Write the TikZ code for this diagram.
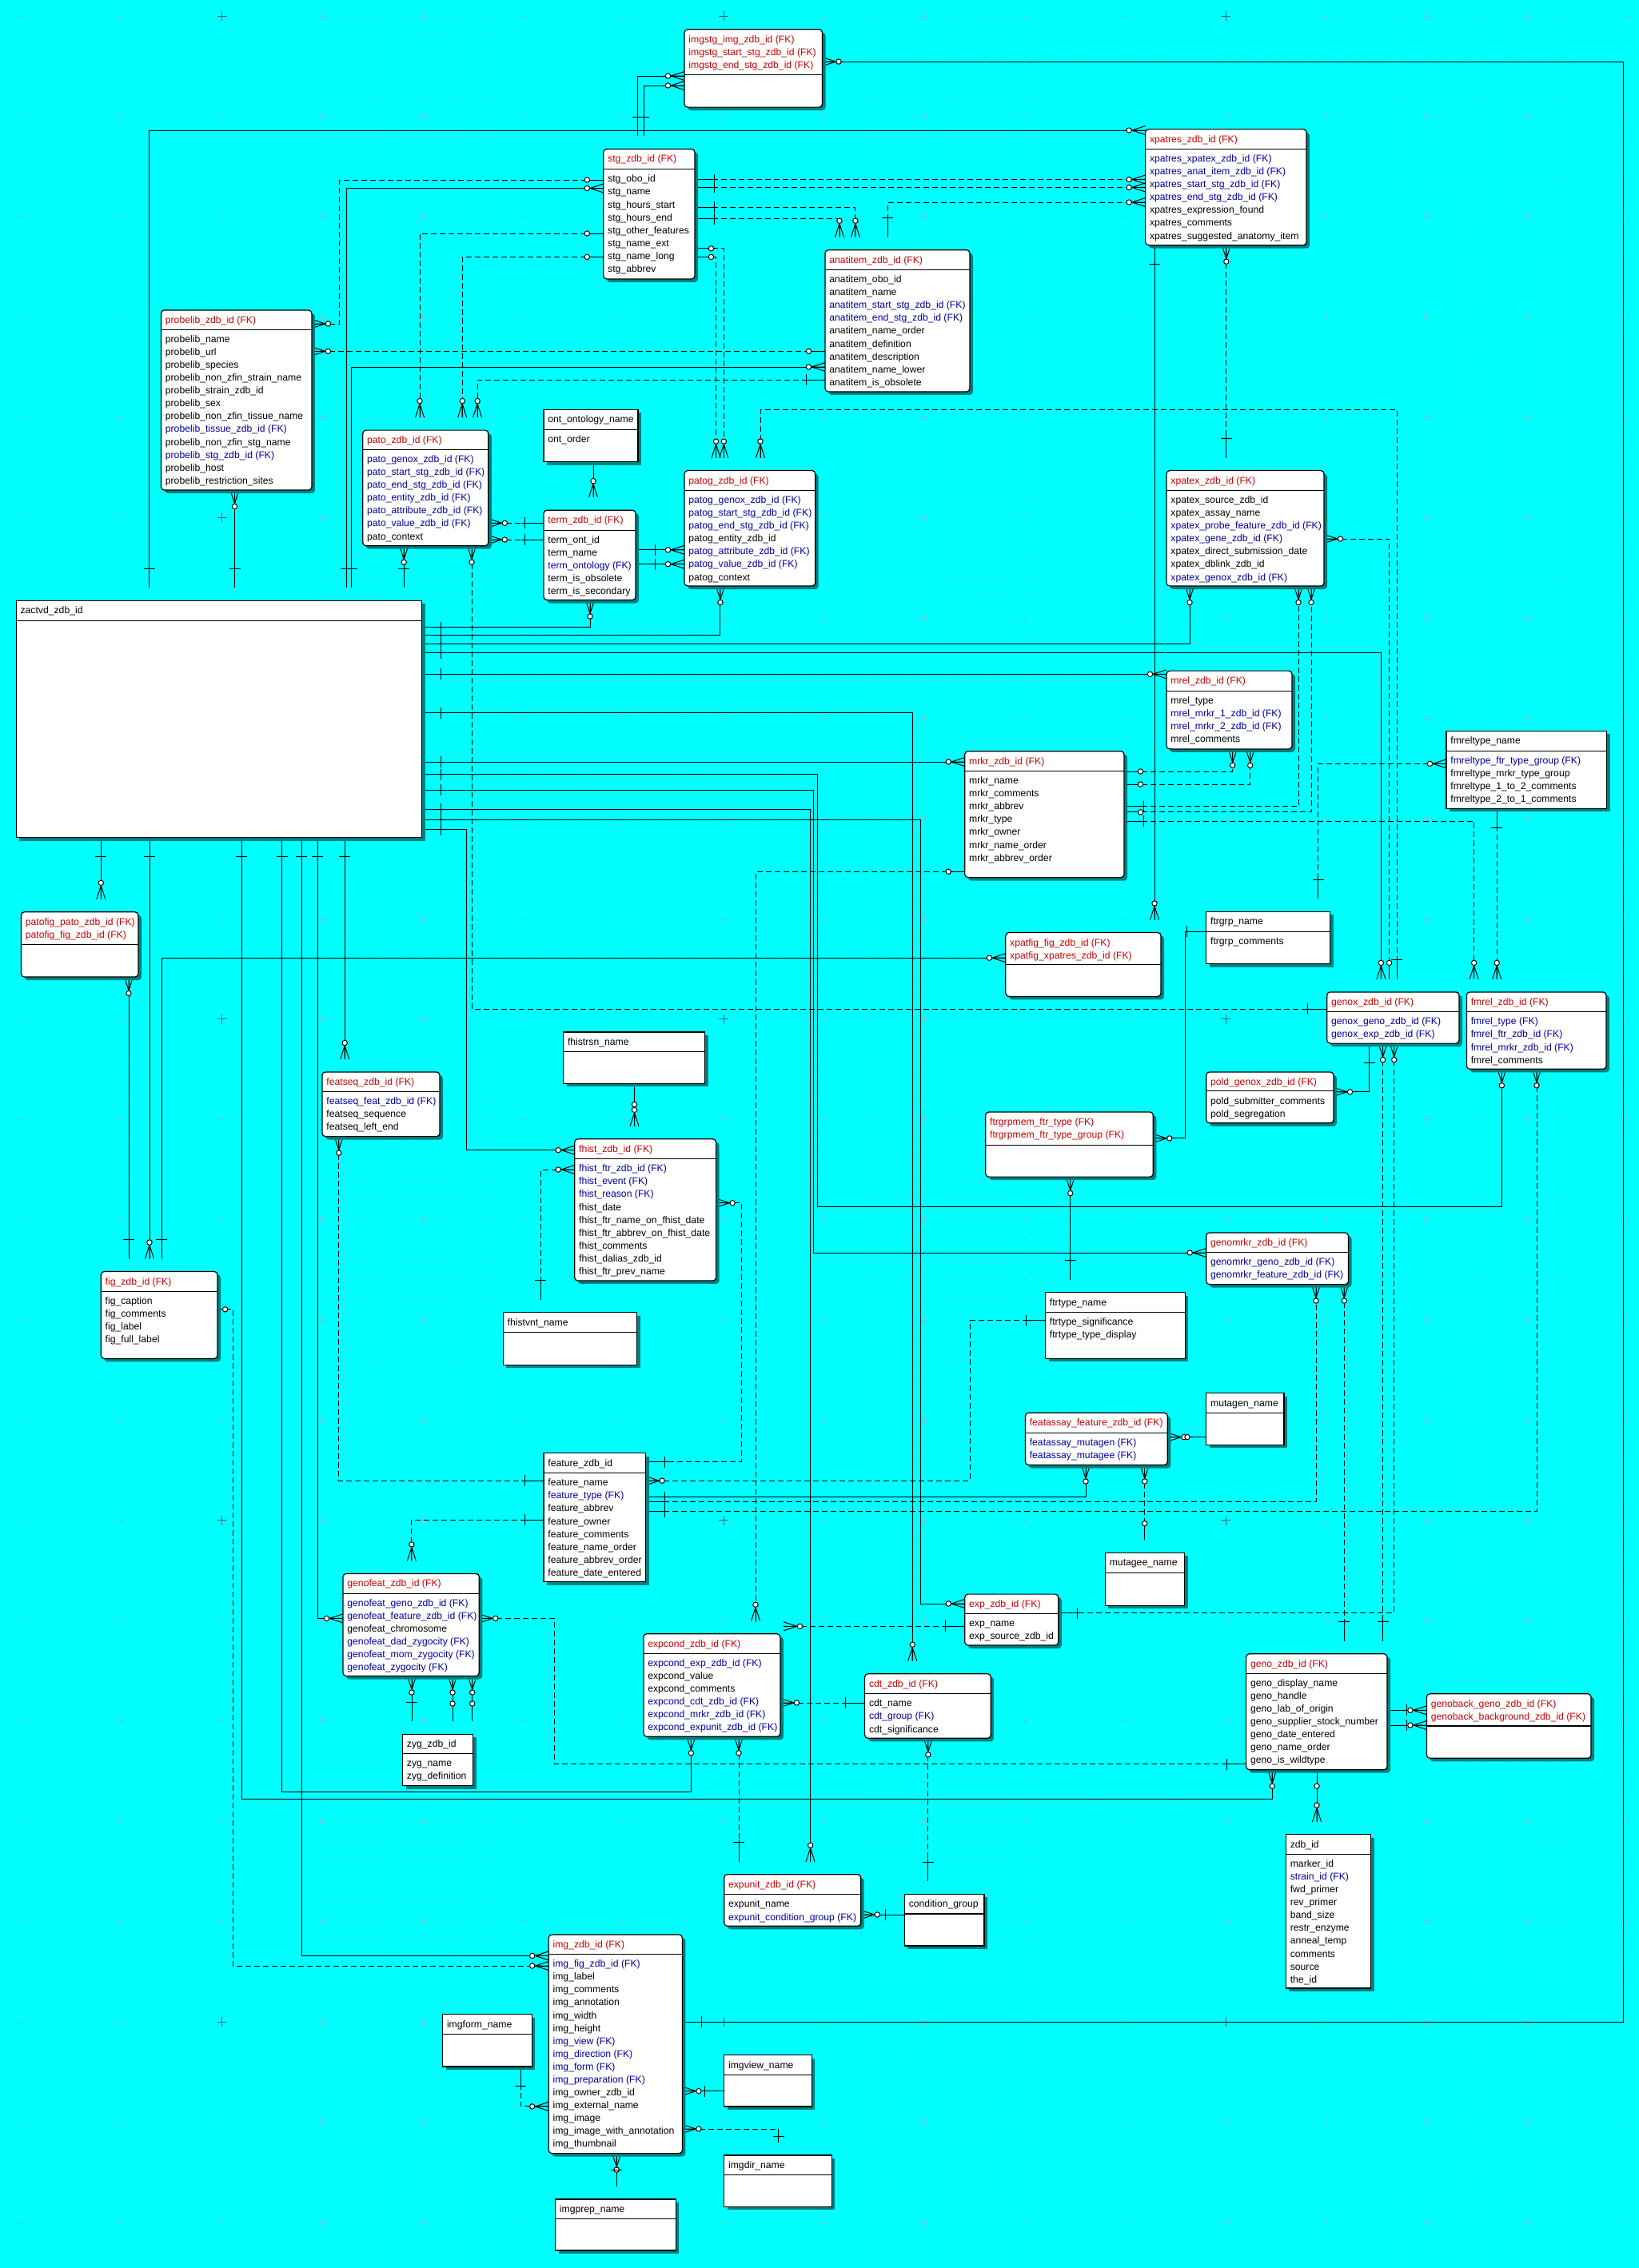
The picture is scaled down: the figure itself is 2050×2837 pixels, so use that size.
\documentclass[tikz,border=0pt]{standalone}
\usepackage{fontspec}
\setmainfont{Liberation Sans}
\usetikzlibrary{calc}
\definecolor{bgc}{RGB}{0,255,255}
\definecolor{shd}{RGB}{0,128,128}
\definecolor{hred}{RGB}{200,0,0}
\definecolor{fkb}{RGB}{0,0,160}
\definecolor{gridl}{RGB}{105,200,210}
\definecolor{gridd}{RGB}{70,100,110}
\definecolor{dotc}{RGB}{70,185,195}
\newcommand\R[1]{\textcolor{hred}{#1}}
\newcommand\B[1]{\textcolor{fkb}{#1}}
\newcommand\efont{\fontsize{6.1pt}{7pt}\selectfont}
\pgfdeclarelayer{bgl}
\pgfsetlayers{bgl,main}
\tikzset{
  ln/.style={line width=0.5pt,black},
  dl/.style={ln,dash pattern=on 3.5pt off 2pt},
  bd/.style={line width=0.6pt,black},
  ebx/.style={draw,line width=0.6pt,fill=white,inner sep=0pt,outer sep=0pt},
  rc/.style={rounded corners=2pt},
  sq/.style={},
  txt/.style={anchor=base west,inner sep=0pt,font=\efont}
}
\newcommand\setdir[1]{\def\ux{0}\def\uy{0}%
  \if r#1\def\ux{1}\fi\if l#1\def\ux{-1}\fi\if u#1\def\uy{-1}\fi\if d#1\def\uy{1}\fi}
\newcommand\dCrw[3]{\setdir{#3}%
  \draw[ln] ({#1-5.5*\uy},{#2+5.5*\ux}) -- ({#1+17*\ux},{#2+17*\uy}) -- ({#1+5.5*\uy},{#2-5.5*\ux})
            ({#1+17*\ux},{#2+17*\uy}) -- (#1,#2);}
\newcommand\dZro[3]{\setdir{#3}%
  \draw[ln] (#1,#2) -- ({#1+20.5*\ux},{#2+20.5*\uy});
  \draw[ln,fill=white] ({#1+20.5*\ux},{#2+20.5*\uy}) circle[radius=3.2];}
\newcommand\dMny[3]{\dCrw{#1}{#2}{#3}\dZro{#1}{#2}{#3}}
\newcommand\dOne[3]{\setdir{#3}%
  \draw[ln] ({#1+24*\ux-7*\uy},{#2+24*\uy+7*\ux}) -- ({#1+24*\ux+7*\uy},{#2+24*\uy-7*\ux});}
\newcommand\dOnex[3]{\setdir{#3}\draw[ln] (#1,#2) -- ({#1+28*\ux},{#2+28*\uy});\dOne{#1}{#2}{#3}}
\newcommand\ebox[7]{%
  \fill[shd,#7] ({#2+4},{#3+4}) rectangle ({#4+4},{#5+4});
  \node[ebx,#7,anchor=north west,minimum width={(#4-#2)/2},minimum height={(#5-#3)/2}] (#1) at (#2,#3) {};
  \draw[bd] (#2,#6) -- (#4,#6);
  \coordinate (#1-T) at ($(#1.north)+(0,-16)$);}
\newcommand\rows[3]{\foreach \t [count=\i from 0] in {#3} {\node[txt] at ({#1+5},{#2+4.3+16.07*\i}) {\t};}}
\newcommand\hrows[3]{\foreach \t [count=\i from 0] in {#3} {\node[txt] at ({#1+5},{#2+4.3+16.07*\i}) {\R{\t}};}}
\newcommand\entR[8]{\ebox{#1}{#2}{#3}{#4}{#5}{#6}{rc}\hrows{#2}{#3+12.2}{#7}\rows{#2}{#6+11.9}{#8}}
\newcommand\entS[8]{\ebox{#1}{#2}{#3}{#4}{#5}{#6}{sq}\rows{#2}{#3+12.2}{#7}\rows{#2}{#6+11.9}{#8}}
\begin{document}
\catcode`\_=12
\begin{tikzpicture}[x=0.5pt,y=-0.5pt]
\useasboundingbox (0,0) rectangle (2050,2837);
% ---------------- entities ----------------
\entR{imgstg}{856}{36.7}{1028.5}{134.1}{93.7}{imgstg_img_zdb_id (FK),imgstg_start_stg_zdb_id (FK),imgstg_end_stg_zdb_id (FK)}{}
\entR{stg}{754.8}{186.4}{869}{349}{211.7}{stg_zdb_id (FK)}{stg_obo_id,stg_name,stg_hours_start,stg_hours_end,stg_other_features,stg_name_ext,stg_name_long,stg_abbrev}
\entR{anatitem}{1032}{312.7}{1213}{489.9}{337.5}{anatitem_zdb_id (FK)}{anatitem_obo_id,anatitem_name,\B{anatitem_start_stg_zdb_id (FK)},\B{anatitem_end_stg_zdb_id (FK)},anatitem_name_order,anatitem_definition,anatitem_description,anatitem_name_lower,anatitem_is_obsolete}
\entR{xpatres}{1432.6}{161.6}{1634}{306.7}{186.4}{xpatres_zdb_id (FK)}{\B{xpatres_xpatex_zdb_id (FK)},\B{xpatres_anat_item_zdb_id (FK)},\B{xpatres_start_stg_zdb_id (FK)},\B{xpatres_end_stg_zdb_id (FK)},xpatres_expression_found,xpatres_comments,xpatres_suggested_anatomy_item}
\entR{probelib}{201.5}{388}{389.9}{613}{412.3}{probelib_zdb_id (FK)}{probelib_name,probelib_url,probelib_species,probelib_non_zfin_strain_name,probelib_strain_zdb_id,probelib_sex,probelib_non_zfin_tissue_name,\B{probelib_tissue_zdb_id (FK)},probelib_non_zfin_stg_name,\B{probelib_stg_zdb_id (FK)},probelib_host,probelib_restriction_sites}
\entR{pato}{453.7}{538.1}{610.8}{682.7}{562.4}{pato_zdb_id (FK)}{\B{pato_genox_zdb_id (FK)},\B{pato_start_stg_zdb_id (FK)},\B{pato_end_stg_zdb_id (FK)},\B{pato_entity_zdb_id (FK)},\B{pato_attribute_zdb_id (FK)},\B{pato_value_zdb_id (FK)},pato_context}
\entS{ont}{680}{512.4}{798}{577.6}{537.2}{ont_ontology_name}{ont_order}
\entR{term}{680}{638.2}{795}{750.5}{663.5}{term_zdb_id (FK)}{term_ont_id,term_name,\B{term_ontology (FK)},term_is_obsolete,term_is_secondary}
\entR{patog}{856}{588.6}{1019.7}{733}{613.4}{patog_zdb_id (FK)}{\B{patog_genox_zdb_id (FK)},\B{patog_start_stg_zdb_id (FK)},\B{patog_end_stg_zdb_id (FK)},patog_entity_zdb_id,\B{patog_attribute_zdb_id (FK)},\B{patog_value_zdb_id (FK)},patog_context}
\entR{xpatex}{1459}{588.6}{1656}{733}{613.4}{xpatex_zdb_id (FK)}{xpatex_source_zdb_id,xpatex_assay_name,\B{xpatex_probe_feature_zdb_id (FK)},\B{xpatex_gene_zdb_id (FK)},xpatex_direct_submission_date,xpatex_dblink_zdb_id,\B{xpatex_genox_zdb_id (FK)}}
\entS{zactvd}{20.2}{751.4}{527.6}{1047.6}{776.7}{zactvd_zdb_id}{}
\entR{mrel}{1459}{839.1}{1616}{936.9}{864.4}{mrel_zdb_id (FK)}{mrel_type,\B{mrel_mrkr_1_zdb_id (FK)},\B{mrel_mrkr_2_zdb_id (FK)},mrel_comments}
\entS{fmreltype}{1809}{914.4}{2009.5}{1011.3}{939.2}{fmreltype_name}{\B{fmreltype_ftr_type_group (FK)},fmreltype_mrkr_type_group,fmreltype_1_to_2_comments,fmreltype_2_to_1_comments}
\entR{mrkr}{1206.7}{939.7}{1406}{1097.6}{964.5}{mrkr_zdb_id (FK)}{mrkr_name,mrkr_comments,mrkr_abbrev,mrkr_type,mrkr_owner,mrkr_name_order,mrkr_abbrev_order}
\entR{patofig}{26.4}{1140.8}{173}{1222}{1181.6}{patofig_pato_zdb_id (FK),patofig_fig_zdb_id (FK)}{}
\entR{xpatfig}{1257.8}{1166.5}{1452}{1246.4}{1206.4}{xpatfig_fig_zdb_id (FK),xpatfig_xpatres_zdb_id (FK)}{}
\entS{ftrgrp}{1508.7}{1140.3}{1663.6}{1205.5}{1165.6}{ftrgrp_name}{ftrgrp_comments}
\entR{genox}{1659.7}{1240.9}{1825}{1305.1}{1265.7}{genox_zdb_id (FK)}{\B{genox_geno_zdb_id (FK)},\B{genox_exp_zdb_id (FK)}}
\entR{fmrel}{1834.4}{1240.9}{2009}{1337.3}{1265.7}{fmrel_zdb_id (FK)}{\B{fmrel_type (FK)},\B{fmrel_ftr_zdb_id (FK)},\B{fmrel_mrkr_zdb_id (FK)},fmrel_comments}
\entR{pold}{1508.7}{1341}{1668}{1404.8}{1364.8}{pold_genox_zdb_id (FK)}{pold_submitter_comments,pold_segregation}
\entS{fhistrsn}{704.6}{1290.9}{881.5}{1355.2}{1315.2}{fhistrsn_name}{}
\entR{featseq}{403}{1341}{550}{1421.6}{1365.3}{featseq_zdb_id (FK)}{\B{featseq_feat_zdb_id (FK)},featseq_sequence,featseq_left_end}
\entR{ftrgrpmem}{1232.7}{1391}{1442.3}{1472.1}{1432.1}{ftrgrpmem_ftr_type (FK),ftrgrpmem_ftr_type_group (FK)}{}
\entR{fhist}{718.7}{1424.8}{895.6}{1602}{1449.6}{fhist_zdb_id (FK)}{\B{fhist_ftr_zdb_id (FK)},\B{fhist_event (FK)},\B{fhist_reason (FK)},fhist_date,fhist_ftr_name_on_fhist_date,fhist_ftr_abbrev_on_fhist_date,fhist_comments,fhist_dalias_zdb_id,fhist_ftr_prev_name}
\entR{fig}{126.3}{1590.5}{272}{1699.4}{1615.3}{fig_zdb_id (FK)}{fig_caption,fig_comments,fig_label,fig_full_label}
\entS{fhistvnt}{629.3}{1641.5}{796.6}{1707.2}{1666.3}{fhistvnt_name}{}
\entR{genomrkr}{1508.7}{1541.9}{1686.5}{1606.6}{1566.7}{genomrkr_zdb_id (FK)}{\B{genomrkr_geno_zdb_id (FK)},\B{genomrkr_feature_zdb_id (FK)}}
\entS{ftrtype}{1307.5}{1616.7}{1482.3}{1699.4}{1641.5}{ftrtype_name}{ftrtype_significance,ftrtype_type_display}
\entR{featassay}{1282.4}{1767.3}{1460.3}{1832.5}{1792.6}{featassay_feature_zdb_id (FK)}{\B{featassay_mutagen (FK)},\B{featassay_mutagee (FK)}}
\entS{mutagen}{1508.7}{1742.5}{1606}{1807.3}{1767.3}{mutagen_name}{}
\entS{feature}{680}{1817.8}{807.6}{1978.5}{1842.6}{feature_zdb_id}{feature_name,\B{feature_type (FK)},feature_abbrev,feature_owner,feature_comments,feature_name_order,feature_abbrev_order,feature_date_entered}
\entS{mutagee}{1382.4}{1942.2}{1481.5}{2008.3}{1967.5}{mutagee_name}{}
\entR{genofeat}{429}{1968.4}{599.3}{2096.5}{1993.2}{genofeat_zdb_id (FK)}{\B{genofeat_geno_zdb_id (FK)},\B{genofeat_feature_zdb_id (FK)},genofeat_chromosome,\B{genofeat_dad_zygocity (FK)},\B{genofeat_mom_zygocity (FK)},\B{genofeat_zygocity (FK)}}
\entR{exp}{1206.7}{1994.1}{1323.8}{2058}{2018.5}{exp_zdb_id (FK)}{exp_name,exp_source_zdb_id}
\entR{expcond}{804.9}{2043.7}{975.9}{2172.3}{2068.3}{expcond_zdb_id (FK)}{\B{expcond_exp_zdb_id (FK)},expcond_value,expcond_comments,\B{expcond_cdt_zdb_id (FK)},\B{expcond_mrkr_zdb_id (FK)},\B{expcond_expunit_zdb_id (FK)}}
\entR{cdt}{1081.6}{2093.7}{1239.2}{2174.3}{2118.7}{cdt_zdb_id (FK)}{cdt_name,\B{cdt_group (FK)},cdt_significance}
\entR{geno}{1558.6}{2068.7}{1735}{2213.7}{2093.3}{geno_zdb_id (FK)}{geno_display_name,geno_handle,geno_lab_of_origin,geno_supplier_stock_number,geno_date_entered,geno_name_order,geno_is_wildtype}
\entR{genoback}{1784.4}{2118.7}{1990}{2199.3}{2159}{genoback_geno_zdb_id (FK),genoback_background_zdb_id (FK)}{}
\entS{zyg}{503.5}{2169.1}{591.7}{2233.5}{2193.5}{zyg_zdb_id}{zyg_name,zyg_definition}
\entS{zdbid}{1608.4}{2294.7}{1714.5}{2487}{2319.3}{zdb_id}{marker_id,\B{strain_id (FK)},fwd_primer,rev_primer,band_size,restr_enzyme,anneal_temp,comments,source,the_id}
\entR{expunit}{905.7}{2344.7}{1076.7}{2409.3}{2369.7}{expunit_zdb_id (FK)}{expunit_name,\B{expunit_condition_group (FK)}}
\entS{condgrp}{1131.4}{2369.3}{1231}{2434}{2394}{condition_group}{}
\entR{img}{686.2}{2420}{853.4}{2693.6}{2444.5}{img_zdb_id (FK)}{\B{img_fig_zdb_id (FK)},img_label,img_comments,img_annotation,img_width,img_height,\B{img_view (FK)},\B{img_direction (FK)},\B{img_form (FK)},\B{img_preparation (FK)},img_owner_zdb_id,img_external_name,img_image,img_image_with_annotation,img_thumbnail}
\entS{imgform}{553.6}{2519.7}{665.1}{2585}{2544.6}{imgform_name}{}
\entS{imgview}{905.7}{2570.5}{1015.4}{2634.9}{2595.4}{imgview_name}{}
\entS{imgdir}{905.7}{2696}{1040.2}{2760.4}{2720.4}{imgdir_name}{}
\entS{imgprep}{694.5}{2751}{845.1}{2814.9}{2775.4}{imgprep_name}{}
% ---------------- background and connectors ----------------
\begin{pgfonlayer}{bgl}
\fill[bgc] (0,0) rectangle (2050,2837);
\foreach \m in {0,...,112} {\draw[dotc,line width=0.5pt,dash pattern=on 0.5pt off 12.055pt] (0.8,{20.2+25.09*\m}) -- (2050,{20.2+25.09*\m});}
\foreach \k in {0,...,16} {\foreach \j in {0,...,22} {
  \draw[gridl,line width=0.35pt] ({26.4+125.55*\k-3.5},{20.2+125.45*\j}) -- ++(7,0) ({26.4+125.55*\k},{20.2+125.45*\j-3.5}) -- ++(0,7);}}
\foreach \k in {2,7,12} {\foreach \j in {0,5,10,15,20} {
  \draw[gridd,line width=0.5pt] ({26.4+125.55*\k-6},{20.2+125.45*\j}) -- ++(12,0) ({26.4+125.55*\k},{20.2+125.45*\j-6}) -- ++(0,12);}}
% top region
\draw[ln] (186.6,0 |- zactvd-T) |- (xpatres.west |- 0,163);
\dOne{186.6}{735.4}{u} \dMny{1432.6}{163}{l}
\draw[dl] (probelib.east |- 0,405) -| (424.6,225) -- (stg.west |- 0,225);
\dMny{389.9}{405}{r} \dZro{754.8}{225}{l}
\draw[ln] (433.4,0 |- zactvd-T) |- (stg.west |- 0,235.5);
\dOne{433.4}{735.4}{u} \dMny{754.8}{235.5}{l}
\draw[ln] (439.6,0 |- zactvd-T) |- (anatitem.west |- 0,459);
\dOne{439.6}{735.4}{u} \dMny{1032}{459}{l}
\draw[dl] (stg.west |- 0,292) -| (525,0 |- pato-T);
\dZro{754.8}{292}{l} \dMny{525}{522.1}{u}
\draw[dl] (stg.west |- 0,321.4) -| (578.2,0 |- pato-T);
\dZro{754.8}{321.4}{l} \dMny{578.2}{522.1}{u}
\draw[dl] (anatitem.west |- 0,475.2) -| (597.1,0 |- pato-T);
\dOnex{1032}{475.2}{l} \dMny{597.1}{522.1}{u}
\draw[dl] (probelib.east |- 0,439.4) -- (anatitem.west |- 0,439.4);
\dMny{389.9}{439.4}{r} \dZro{1032}{439.4}{l}
\draw[ln] (293.5,0 |- probelib.south) -- (293.5,0 |- zactvd-T);
\dMny{293.5}{613}{d} \dOne{293.5}{735.4}{u}
\draw[ln] (505.2,0 |- pato.south) -- (505.2,0 |- zactvd-T);
\dMny{505.2}{682.7}{d} \dOne{505.2}{735.4}{u}
\draw[dl] (590,0 |- pato.south) |- (genox.west |- 0,1262);
\dMny{590}{682.7}{d} \dOnex{1659.7}{1262}{l}
\draw[dl] (pato.east |- 0,654.3) -- (term.west |- 0,654.3);
\draw[dl] (pato.east |- 0,675) -- (term.west |- 0,675);
\dMny{610.8}{654.3}{r} \dMny{610.8}{675}{r} \dOnex{680}{654.3}{l} \dOnex{680}{675}{l}
\draw[ln] (742,0 |- ont.south) -- (742,0 |- term-T);
\dMny{742}{622.2}{u}
\draw[ln] (term.east |- 0,687.8) -- (patog.west |- 0,687.8);
\draw[ln] (term.east |- 0,705.7) -- (patog.west |- 0,705.7);
\dOne{795}{687.8}{r} \dOne{795}{705.7}{r} \dMny{856}{687.8}{l} \dMny{856}{705.7}{l}
\draw[dl] (stg.east |- 0,224.5) -- (xpatres.west |- 0,224.5);
\draw[dl] (stg.east |- 0,234.4) -- (xpatres.west |- 0,234.4);
\dOnex{869}{224.5}{r} \dOnex{869}{234.4}{r} \dMny{1432.6}{224.5}{l} \dMny{1432.6}{234.4}{l}
\draw[dl] (1110.4,0 |- anatitem-T) |- (xpatres.west |- 0,253);
\dOnex{1110.4}{296.7}{u} \dMny{1432.6}{253}{l}
\draw[dl] (stg.east |- 0,259.4) -| (1069.9,0 |- anatitem-T);
\draw[dl] (stg.east |- 0,273.6) -| (1050,0 |- anatitem-T);
\dOnex{869}{259.4}{r} \dOnex{869}{273.6}{r} \dMny{1069.9}{296.7}{u} \dMny{1050}{296.7}{u}
\draw[dl] (stg.east |- 0,310.8) -| (905.3,0 |- patog-T);
\draw[dl] (stg.east |- 0,321.4) -| (895.6,0 |- patog-T);
\dZro{869}{310.8}{r} \dZro{869}{321.4}{r} \dMny{905.3}{572.6}{u} \dMny{895.6}{572.6}{u}
\draw[dl] (951,0 |- patog-T) |- (1747.2,512.4) -- (1747.2,0 |- genox-T);
\dMny{951}{572.6}{u} \dOnex{1747.2}{1224.9}{u}
\draw[dl] (xpatex.east |- 0,674) -| (1737.6,0 |- genox-T);
\dMny{1656}{674}{r} \dZro{1737.6}{1224.9}{u}
\draw[ln] (1444,0 |- xpatres.south) -- (1444,0 |- xpatfig-T);
\dOne{1444}{306.7}{d} \dMny{1444}{1150.5}{u}
\draw[dl] (1533.8,0 |- xpatres.south) -- (1533.8,0 |- xpatex-T);
\dMny{1533.8}{306.7}{d} \dOnex{1533.8}{572.6}{u}
\draw[ln] (imgstg.east |- 0,77.1) -| (2030.5,2529) -- (img.east |- 0,2529);
\dMny{1028.5}{77.1}{r} \dOne{853.4}{2529}{r}
\draw[ln] (imgstg.west |- 0,95) -| (797.5,0 |- stg-T);
\draw[ln] (imgstg.west |- 0,107) -| (805.4,0 |- stg-T);
\dMny{856}{95}{l} \dMny{856}{107}{l} \dOne{797.5}{170.4}{u} \dOne{805.4}{170.4}{u}
% zactvd right side
\draw[ln] (zactvd.east |- 0,784.5) -| (738,0 |- term.south);
\dMny{738}{750.5}{d}
\draw[ln] (zactvd.east |- 0,794.6) -| (900.9,0 |- patog.south);
\dMny{900.9}{733}{d}
\draw[ln] (zactvd.east |- 0,805.6) -| (1488,0 |- xpatex.south);
\dMny{1488}{733}{d}
\draw[ln] (zactvd.east |- 0,816.6) -| (1727.4,0 |- genox-T);
\dMny{1727.4}{1224.9}{u}
\draw[ln] (zactvd.east |- 0,843.3) -- (mrel.west |- 0,843.3);
\dMny{1459}{843.3}{l}
\draw[ln] (zactvd.east |- 0,891.9) -| (1141.2,0 |- cdt-T);
\dMny{1141.2}{2077.7}{u}
\draw[ln] (zactvd.east |- 0,953) -- (mrkr.west |- 0,953);
\dMny{1206.7}{953}{l}
\draw[ln] (zactvd.east |- 0,968.6) -| (1022.4,1509.3) -| (1878.4,0 |- fmrel.south);
\dMny{1878.4}{1337.3}{d}
\draw[ln] (zactvd.east |- 0,988.3) -| (1017.1,1567) -- (genomrkr.west |- 0,1567);
\dMny{1508.7}{1567}{l}
\draw[ln] (zactvd.east |- 0,1012.2) -| (1013.6,0 |- expunit-T);
\dMny{1013.6}{2328.7}{u}
\draw[ln] (zactvd.east |- 0,1025) -| (1151.3,2006) -- (exp.west |- 0,2006);
\dMny{1206.7}{2006}{l}
\draw[ln] (zactvd.east |- 0,1037.5) -| (583,1438.6) -- (fhist.west |- 0,1438.6);
\dMny{718.7}{1438.6}{l}
\foreach \yy in {784.5,794.6,805.6,816.6,843.3,891.9,953,968.6,988.3,1012.2,1025,1037.5} {\dOne{527.6}{\yy}{r}}
% zactvd bottom side
\draw[ln] (126.3,0 |- zactvd.south) -- (126.3,0 |- patofig-T);
\dOne{126.3}{1047.6}{d} \dMny{126.3}{1124.8}{u}
\draw[ln] (187,0 |- zactvd.south) -- (187,0 |- fig-T);
\dOne{187}{1047.6}{d} \dMny{187}{1574.5}{u}
\draw[ln] (161,0 |- patofig.south) -- (161,0 |- fig-T);
\dMny{161}{1222}{d} \dOne{161}{1574.5}{u}
\draw[ln] (202.4,0 |- fig-T) |- (xpatfig.west |- 0,1198.2);
\dOne{202.4}{1574.5}{u} \dMny{1257.8}{1198.2}{l}
\draw[ln] (302.3,0 |- zactvd.south) |- (1591.2,2250.9) -- (1591.2,0 |- geno.south);
\dOne{302.3}{1047.6}{d} \dMny{1591.2}{2213.7}{d}
\draw[ln] (352.9,0 |- zactvd.south) |- (864.4,2241) -- (864.4,0 |- expcond.south);
\dOne{352.9}{1047.6}{d} \dMny{864.4}{2172.3}{d}
\draw[ln] (377.1,0 |- zactvd.south) |- (img.west |- 0,2446.4);
\dOne{377.1}{1047.6}{d} \dMny{686.2}{2446.4}{l}
\draw[ln] (397.4,0 |- zactvd.south) |- (genofeat.west |- 0,2024.4);
\dOne{397.4}{1047.6}{d} \dMny{429}{2024.4}{l}
\draw[ln] (431.2,0 |- zactvd.south) -- (431.2,0 |- featseq-T);
\dOne{431.2}{1047.6}{d} \dMny{431.2}{1325}{u}
\draw[dl] (281.6,1637.8) -| (291.3,2459) -- (img.west |- 0,2459);
\draw[ln] (fig.east |- 0,1637.8) -- (281.6,1637.8);
\draw[ln,fill=white] (281.6,1637.8) circle[radius=3.2];
\dMny{686.2}{2459}{l}
% mrkr / mrel / fmrel area
\draw[dl] (mrkr.east |- 0,965) -| (1541.7,0 |- mrel.south);
\draw[dl] (mrkr.east |- 0,981) -| (1563.7,0 |- mrel.south);
\dZro{1406}{965}{r} \dZro{1406}{981}{r} \dMny{1541.7}{936.9}{d} \dMny{1563.7}{936.9}{d}
\draw[dl] (mrkr.east |- 0,1008.5) -| (1624,0 |- xpatex.south);
\draw[dl] (mrkr.east |- 0,1015.9) -| (1640,0 |- xpatex.south);
\dOnex{1406}{1008.5}{r} \dZro{1406}{1015.9}{r} \dMny{1624}{733}{d} \dMny{1640}{733}{d}
\draw[dl] (mrkr.east |- 0,1027) -| (1843.6,0 |- fmrel-T);
\dOnex{1406}{1027}{r} \dMny{1843.6}{1224.9}{u}
\draw[dl] (1872.2,0 |- fmreltype.south) -- (1872.2,0 |- fmrel-T);
\dOnex{1872.2}{1011.3}{d} \dMny{1872.2}{1224.9}{u}
\draw[dl] (fmreltype.west |- 0,955.3) -| (1648.7,0 |- ftrgrp-T);
\dMny{1809}{955.3}{l} \dOnex{1648.7}{1124.3}{u}
\draw[ln] (1712.5,0 |- genox.south) |- (pold.east |- 0,1365.8);
\dOne{1712.5}{1305.1}{d} \dMny{1668}{1365.8}{r}
\draw[dl] (1681.2,0 |- genomrkr.south) -- (1681.2,0 |- geno-T);
\dMny{1681.2}{1606.6}{d} \dOnex{1681.2}{2052.7}{u}
\draw[dl] (1729.6,0 |- genox.south) -- (1729.6,0 |- geno-T);
\dMny{1729.6}{1305.1}{d} \dOnex{1729.6}{2052.7}{u}
\draw[dl] (1743.7,0 |- genox.south) |- (exp.east |- 0,2017.5);
\dMny{1743.7}{1305.1}{d} \dOnex{1323.8}{2017.5}{r}
% feature area
\draw[dl] (feature.east |- 0,1890.8) -| (1922,0 |- fmrel.south);
\dOnex{807.6}{1890.8}{r} \dMny{1922}{1337.3}{d}
\draw[dl] (feature.east |- 0,1878.9) -| (1646,0 |- genomrkr.south);
\dOnex{807.6}{1878.9}{r} \dMny{1646}{1606.6}{d}
\draw[ln] (feature.east |- 0,1872.5) -| (1358,0 |- featassay.south);
\dOne{807.6}{1872.5}{r} \dMny{1358}{1832.5}{d}
\draw[dl] (ftrtype.west |- 0,1651.6) -| (1213.3,1852.2) -- (feature.east |- 0,1852.2);
\dOnex{1307.5}{1651.6}{l} \dMny{807.6}{1852.2}{r}
\draw[ln] (1338.7,0 |- ftrgrpmem.south) -- (1338.7,0 |- ftrtype-T);
\dMny{1338.7}{1472.1}{d} \dOne{1338.7}{1600.7}{u}
\draw[ln] (ftrgrp.west |- 0,1165) -| (1482.3,1423.9) -- (ftrgrpmem.east |- 0,1423.9);
\dOne{1508.7}{1165}{l} \dMny{1442.3}{1423.9}{r}
\draw[dl] (1431.7,0 |- featassay.south) -- (1431.7,0 |- mutagee-T);
\dMny{1431.7}{1832.5}{d} \dZro{1431.7}{1926.2}{u}
\draw[ln] (featassay.east |- 0,1797.6) -- (mutagen.west |- 0,1797.6);
\dMny{1460.3}{1797.6}{r} \draw[ln,fill=white] (1485,1797.6) circle[radius=3.2];
\draw[dl] (mrkr.west |- 0,1090.3) -| (945,0 |- expcond-T);
\dZro{1206.7}{1090.3}{l} \dMny{945}{2027.7}{u}
\coordinate (expcrow) at (980,2034.3);
\draw[dl] (expcrow) -- (exp.west |- 0,2034.3);
\dMny{980}{2034.3}{r} \dOnex{1206.7}{2034.3}{l}
\draw[dl] (expcond.east |- 0,2130) -- (cdt.west |- 0,2130);
\dMny{975.9}{2130}{r} \dOnex{1081.6}{2130}{l}
\draw[dl] (924,0 |- expcond.south) -- (924,0 |- expunit-T);
\dMny{924}{2172.3}{d} \dOnex{924}{2328.7}{u}
\draw[dl] (1160.8,0 |- cdt.south) -- (1160.8,0 |- condgrp-T);
\dMny{1160.8}{2174.3}{d} \dOnex{1160.8}{2353.3}{u}
\draw[dl] (genofeat.east |- 0,2024.4) -| (693.6,2206.7) -- (geno.west |- 0,2206.7);
\dMny{599.3}{2024.4}{r} \dOnex{1558.6}{2206.7}{l}
\draw[dl] (514.9,0 |- genofeat-T) |- (feature.west |- 0,1901.4);
\dMny{514.9}{1952.4}{u} \dOnex{680}{1901.4}{l}
\draw[dl] (423.8,0 |- featseq.south) |- (feature.west |- 0,1852.2);
\dMny{423.8}{1421.6}{d} \dOnex{680}{1852.2}{l}
\draw[dl] (fhist.west |- 0,1463) -| (676.3,0 |- fhistvnt-T);
\dMny{718.7}{1463}{l} \dOnex{676.3}{1625.5}{u}
\draw[ln] (793.5,0 |- fhistrsn.south) -- (793.5,0 |- fhist-T);
\dMny{793.5}{1408.8}{u} \draw[ln,fill=white] (793.5,1381.5) circle[radius=3.2];
\draw[dl] (fhist.east |- 0,1504.7) -| (927.3,1828.8) -- (feature.east |- 0,1828.8);
\dMny{895.6}{1504.7}{r} \dOnex{807.6}{1828.8}{r}
% genofeat / zyg
\draw[ln] (515,0 |- genofeat.south) -- (515,0 |- zyg-T);
\draw[ln] (566,0 |- genofeat.south) -- (566,0 |- zyg-T);
\draw[ln] (590.7,0 |- genofeat.south) -- (590.7,0 |- zyg-T);
\dMny{515}{2096.5}{d} \dOne{515}{2153.1}{u}
\dMny{566}{2096.5}{d} \dMny{590.7}{2096.5}{d}
\draw[ln,fill=white] (566,2131) circle[radius=3.2] (590.7,2131) circle[radius=3.2];
% img area
\draw[dl] (651.3,0 |- imgform.south) |- (img.west |- 0,2634.9);
\dOnex{651.3}{2585}{d} \dMny{686.2}{2634.9}{l}
\draw[ln] (img.east |- 0,2615.6) -- (imgview.west |- 0,2615.6);
\dMny{853.4}{2615.6}{r} \dOne{905.7}{2615.6}{l}
\draw[dl] (img.east |- 0,2663) -| (973.6,0 |- imgdir-T);
\dMny{853.4}{2663}{r}
\draw[ln] (973.6,2663) -- (973.6,0 |- imgdir-T) (966.6,2672.5) -- (980.6,2672.5);
\draw[ln] (771.2,0 |- img.south) -- (771.2,0 |- imgprep-T);
\dMny{771.2}{2693.6}{d} \draw[ln] (764.2,2714.8) -- (778.2,2714.8);
% expunit, geno
\draw[ln] (expunit.east |- 0,2395) -- (condgrp.west |- 0,2395);
\dMny{1076.7}{2395}{r} \dOne{1131.4}{2395}{l}
\draw[ln] (geno.east |- 0,2139.3) -- (genoback.west |- 0,2139.3);
\draw[ln] (geno.east |- 0,2158) -- (genoback.west |- 0,2158);
\dOne{1735}{2139.3}{r} \dOne{1735}{2158}{r} \dMny{1784.4}{2139.3}{l} \dMny{1784.4}{2158}{l}
\draw[ln] (1647,0 |- geno.south) -- (1647,0 |- zdbid-T);
\dZro{1647}{2213.7}{d} \dMny{1647}{2278.7}{u}
\end{pgfonlayer}
\end{tikzpicture}
\end{document}
